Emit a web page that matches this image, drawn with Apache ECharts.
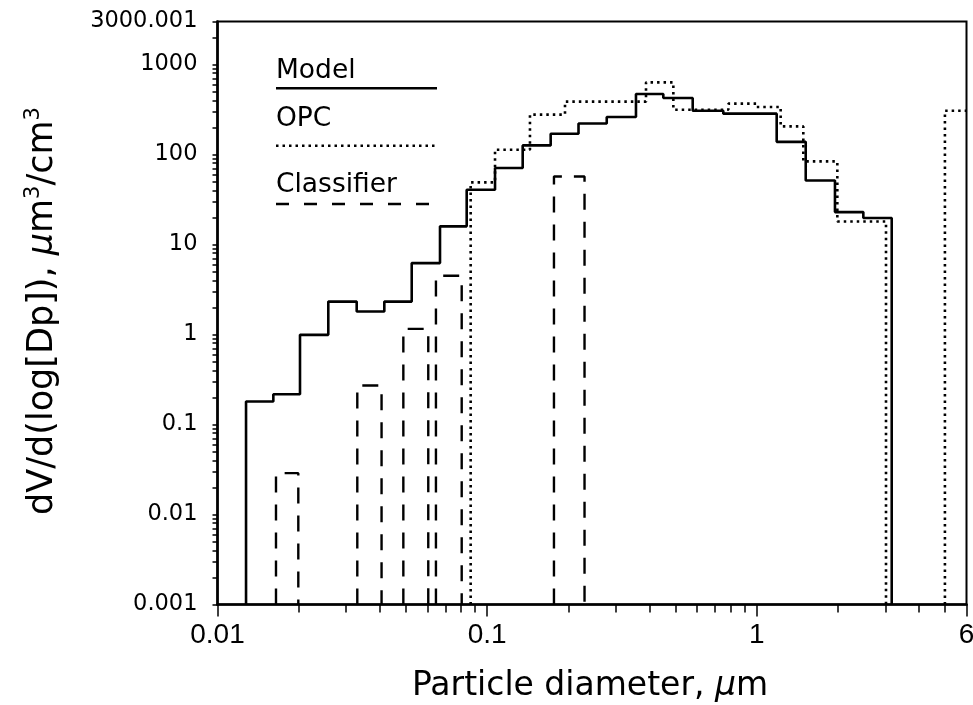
<!DOCTYPE html>
<html><head><meta charset="utf-8">
<script src="https://cdn.jsdelivr.net/npm/echarts@6/dist/echarts.min.js"></script>
<style>html,body{margin:0;padding:0;background:#fff}#c{width:973px;height:705px}</style>
</head><body><div id="c"></div>
<script>
// ---- data ----
const modelEdges = [0.01276, 0.01611, 0.02023, 0.02576, 0.03283, 0.04157, 0.05253, 0.06688, 0.0840, 0.1070, 0.1355, 0.1721, 0.2183, 0.2778, 0.3566, 0.4504, 0.5789, 0.7517, 1.186, 1.520, 1.951, 2.486, 3.168];
const modelValues = [0.180, 0.217, 0.991, 2.32, 1.80, 2.32, 6.21, 15.9, 40.6, 70.7, 126, 170, 221, 261, 470, 424, 306, 284, 138, 51.4, 22.9, 19.7];
const opcEdges = [0.0869, 0.1070, 0.1442, 0.1945, 0.3885, 0.4907, 0.7848, 1.000, 1.227, 1.489, 1.991, 3.017];
const opcValues = [48.9, 113, 277, 386, 632, 314, 367, 337, 205, 83.7, 18.0];
const opcTailEdges = [4.99, 6];
const opcTailValues = [306];
const classifierLeft = [0.01648, 0.0330, 0.0489, 0.0646, 0.1770];
const classifierRight = [0.01994, 0.0406, 0.0605, 0.0805, 0.2298];
const classifierValues = [0.0288, 0.271, 1.155, 4.49, 57.0];
const xTickValues = [0.01, 0.1, 1, 6];
const xTickLabels = ['0.01', '0.1', '1', '6'];
const yTickValues = [0.001, 0.01, 0.1, 1, 10, 100, 1000, 3000.001];
const yTickLabels = ['0.001', '0.01', '0.1', '1', '10', '100', '1000', '3000.001'];
const seriesNames = ['Model', 'OPC', 'Classifier'];
const yFloor = 0.001;

// minor tick positions
const mult = [1, 2, 3, 4, 5, 6, 7, 8, 9];
const xMinor = [];
[0.01, 0.1].forEach(d => mult.forEach(m => xMinor.push(+(d * m).toPrecision(3))));
[1, 2, 3, 4, 5, 6].forEach(v => xMinor.push(v));
const yMinor = [];
[0.001, 0.01, 0.1, 1, 10, 100, 1000].forEach(d => mult.forEach(m => { const v = +(d * m).toPrecision(3); if (v <= 3000.001) yMinor.push(v); }));
yMinor.push(3000.001);

function stepPath(edges, values, closeEnd) {
  const pts = [[edges[0], yFloor]];
  for (let i = 0; i < values.length; i++) {
    pts.push([edges[i], values[i]]);
    pts.push([edges[i + 1], values[i]]);
  }
  if (closeEnd) pts.push([edges[edges.length - 1], yFloor]);
  return pts;
}
function nearestLabel(v, vals, labels) {
  let best = 0, bd = Infinity;
  vals.forEach((t, i) => { const d = Math.abs(Math.log10(t) - Math.log10(v)); if (d < bd) { bd = d; best = i; } });
  return labels[best];
}

const black = '#000';
const series = [];
series.push({ name: seriesNames[0], type: 'line', data: stepPath(modelEdges, modelValues, true),
  showSymbol: false, lineStyle: { color: black, width: 2.6, type: 'solid' }, animation: false, z: 5 });
series.push({ name: seriesNames[1], type: 'line', data: stepPath(opcEdges, opcValues, true),
  showSymbol: false, lineStyle: { color: black, width: 2.6, type: [2.5, 4] }, animation: false, z: 4 });
series.push({ name: seriesNames[1] + ' tail', type: 'line', data: stepPath(opcTailEdges, opcTailValues, false),
  showSymbol: false, lineStyle: { color: black, width: 2.6, type: [2.5, 4] }, animation: false, z: 4 });
classifierValues.forEach((v, i) => {
  series.push({ name: seriesNames[2] + ' ' + i, type: 'line',
    data: [[classifierLeft[i], yFloor], [classifierLeft[i], v], [classifierRight[i], v], [classifierRight[i], yFloor]],
    showSymbol: false, lineStyle: { color: black, width: 2.4, type: [16, 12] }, animation: false, z: 3 });
});

const legendX1 = 276, legendX2 = 437;
const chart = echarts.init(document.getElementById('c'), null, { renderer: 'canvas' });
chart.setOption({
  backgroundColor: '#fff',
  animation: false,
  grid: { left: 217.5, right: 6.5, top: 21.5, bottom: 100.5, show: true, borderColor: black, borderWidth: 2,
          containLabel: false, outerBoundsMode: 'none' },
  xAxis: [{
    type: 'log', logBase: 10, min: 0.01, max: 6,
    axisLine: { show: true, lineStyle: { color: black, width: 2.6 } },
    axisTick: { show: true, inside: false, length: 8, customValues: xMinor, lineStyle: { color: black, width: 1.5 } },
    axisLabel: { show: true, customValues: xTickValues, margin: 17, color: black,
      fontFamily: "'Liberation Sans', sans-serif", fontSize: 28,
      formatter: v => nearestLabel(v, xTickValues, xTickLabels) },
    splitLine: { show: false }, minorTick: { show: false }
  }, {
    type: 'log', logBase: 10, min: 0.01, max: 6, position: 'bottom', gridIndex: 0,
    axisLine: { show: false },
    axisTick: { show: true, inside: false, length: 12, customValues: xTickValues, lineStyle: { color: black, width: 1.5 } },
    axisLabel: { show: false }, splitLine: { show: false }
  }],
  yAxis: {
    type: 'log', logBase: 10, min: 0.001, max: 3000.001,
    axisLine: { show: true, lineStyle: { color: black, width: 2.6 } },
    axisTick: { show: true, inside: false, length: 5, customValues: yMinor, lineStyle: { color: black, width: 1.5 } },
    axisLabel: { show: true, customValues: yTickValues, margin: 20, color: black,
      fontFamily: "'DejaVu Sans', sans-serif", fontSize: 22.5,
      formatter: v => nearestLabel(v, yTickValues, yTickLabels) },
    splitLine: { show: false }
  },
  series: series,
  graphic: [
    { type: 'text', x: 43, y: 311, rotation: Math.PI / 2, silent: true,
      style: { text: '{a|dV/d(log[Dp]), }{i|μ}{a|m}{s|3}{a|/cm}{s|3}', align: 'center', verticalAlign: 'middle', fill: black,
        rich: {
          a: { fontFamily: 'DejaVu Sans', fontSize: 35, fill: black, lineHeight: 40 },
          i: { fontFamily: 'DejaVu Sans', fontSize: 35, fontStyle: 'italic', fill: black, lineHeight: 40 },
          s: { fontFamily: 'DejaVu Sans', fontSize: 21, fill: black, verticalAlign: 'top', lineHeight: 40 }
        } } },
    { type: 'text', x: 590, y: 686, silent: true,
      style: { text: '{a|Particle diameter, }{i|μ}{a|m}', align: 'center', verticalAlign: 'middle', fill: black,
        rich: {
          a: { fontFamily: 'DejaVu Sans', fontSize: 33, fill: black },
          i: { fontFamily: 'DejaVu Sans', fontSize: 33, fontStyle: 'italic', fill: black }
        } } },
    { type: 'text', x: legendX1, y: 71, silent: true,
      style: { text: seriesNames[0], font: "26.5px 'DejaVu Sans'", fill: black, align: 'left', verticalAlign: 'middle' } },
    { type: 'line', silent: true, shape: { x1: legendX1, y1: 88.3, x2: legendX2, y2: 88.3 },
      style: { stroke: black, lineWidth: 2.6 } },
    { type: 'text', x: legendX1, y: 119, silent: true,
      style: { text: seriesNames[1], font: "26.5px 'DejaVu Sans'", fill: black, align: 'left', verticalAlign: 'middle' } },
    { type: 'line', silent: true, shape: { x1: legendX1, y1: 145.7, x2: legendX2, y2: 145.7 },
      style: { stroke: black, lineWidth: 2.6, lineDash: [2.5, 4] } },
    { type: 'text', x: legendX1, y: 185, silent: true,
      style: { text: seriesNames[2], font: "26.5px 'DejaVu Sans'", fill: black, align: 'left', verticalAlign: 'middle' } },
    { type: 'line', silent: true, shape: { x1: legendX1, y1: 204, x2: legendX2, y2: 204 },
      style: { stroke: black, lineWidth: 2.4, lineDash: [13, 15] } }
  ]
});
</script></body></html>
